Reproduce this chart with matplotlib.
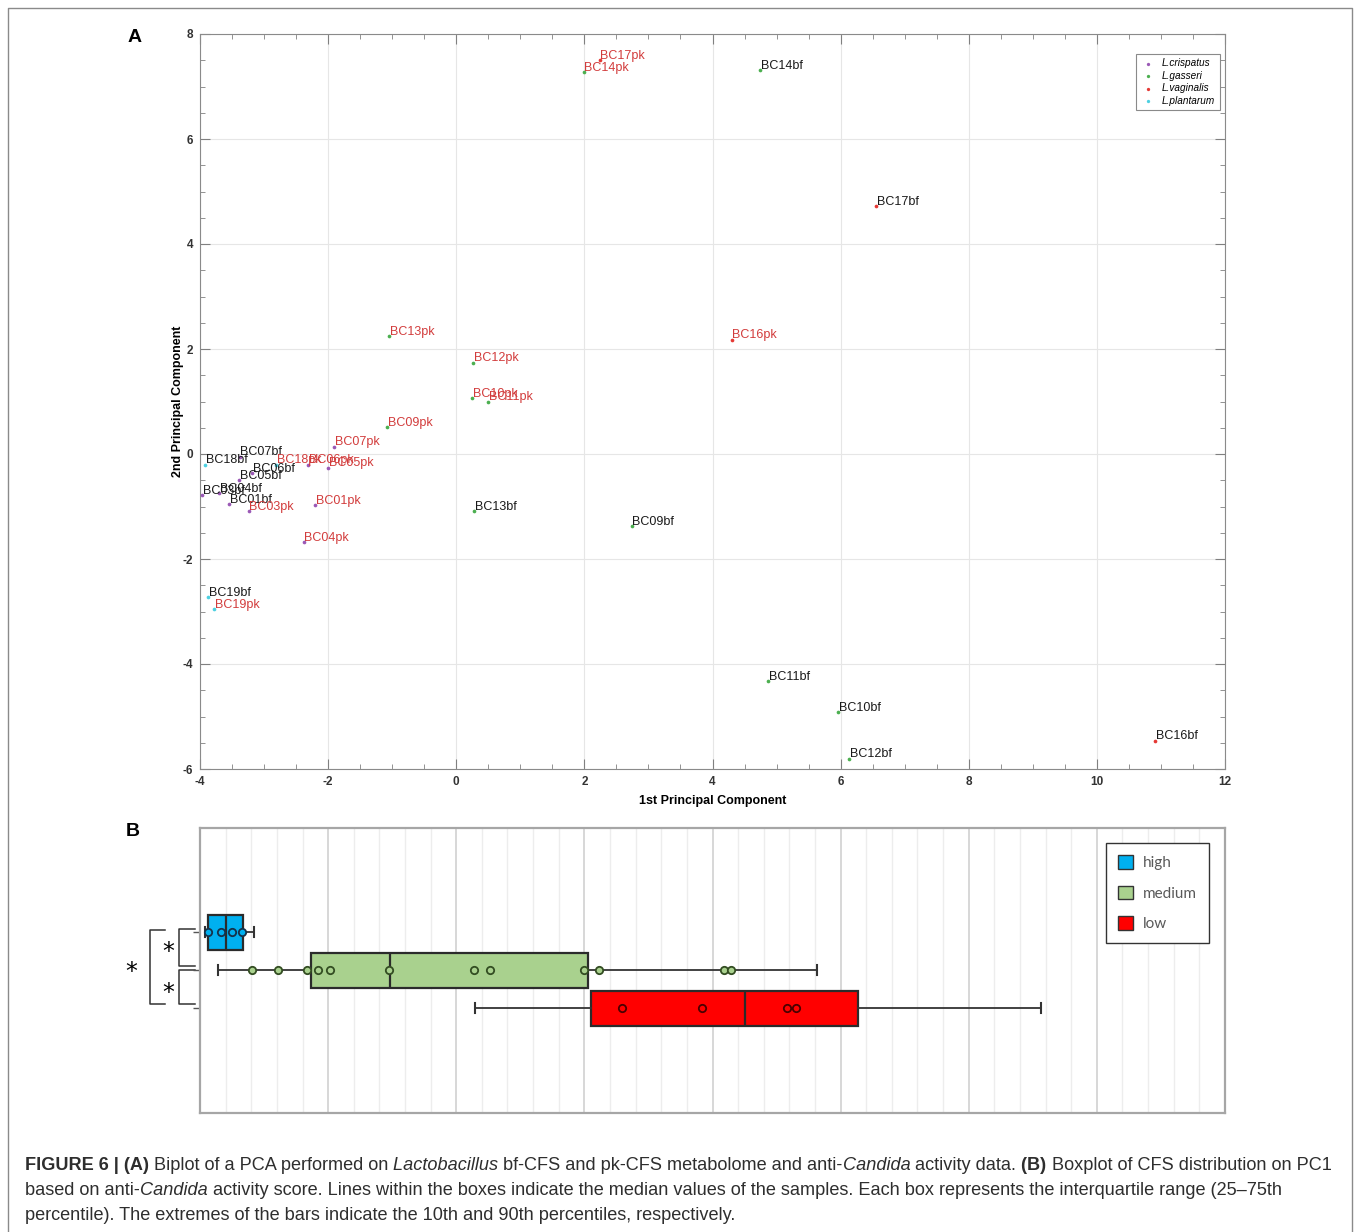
import numpy as np
import matplotlib
matplotlib.use('Agg')
import matplotlib.pyplot as plt
from matplotlib import font_manager
from matplotlib.patches import Patch

# ---- panel A: PCA scores ----
names = ['BC01bf', 'BC03bf', 'BC04bf', 'BC05bf', 'BC06bf', 'BC07bf', 'BC09bf', 'BC10bf',
         'BC11bf', 'BC12bf', 'BC13bf', 'BC14bf', 'BC16bf', 'BC17bf', 'BC18bf', 'BC19bf',
         'BC01pk', 'BC03pk', 'BC04pk', 'BC05pk', 'BC06pk', 'BC07pk', 'BC09pk', 'BC10pk',
         'BC11pk', 'BC12pk', 'BC13pk', 'BC14pk', 'BC16pk', 'BC17pk', 'BC18pk', 'BC19pk']
pc1 = [-3.55, -3.97, -3.70, -3.39, -3.19, -3.38, 2.74, 5.96,
       4.87, 6.13, 0.28, 4.74, 10.91, 6.55, -3.92, -3.87,
       -2.20, -3.24, -2.38, -2.00, -2.31, -1.91, -1.08, 0.25,
       0.50, 0.26, -1.05, 1.99, 4.30, 2.24, -2.81, -3.78]
pc2 = [-0.95, -0.78, -0.74, -0.49, -0.37, -0.05, -1.38, -4.91,
       -4.33, -5.80, -1.08, 7.31, -5.46, 4.73, -0.20, -2.73,
       -0.98, -1.08, -1.67, -0.26, -0.20, 0.14, 0.52, 1.06,
       1.00, 1.74, 2.24, 7.28, 2.18, 7.50, -0.20, -2.96]
species = ['L.crispatus', 'L.crispatus', 'L.crispatus', 'L.crispatus', 'L.crispatus', 'L.crispatus',
           'L.gasseri', 'L.gasseri', 'L.gasseri', 'L.gasseri', 'L.gasseri', 'L.gasseri',
           'L.vaginalis', 'L.vaginalis', 'L.plantarum', 'L.plantarum',
           'L.crispatus', 'L.crispatus', 'L.crispatus', 'L.crispatus', 'L.crispatus', 'L.crispatus',
           'L.gasseri', 'L.gasseri', 'L.gasseri', 'L.gasseri', 'L.gasseri', 'L.gasseri',
           'L.vaginalis', 'L.vaginalis', 'L.plantarum', 'L.plantarum']
sp_names = ['L.crispatus', 'L.gasseri', 'L.vaginalis', 'L.plantarum']
sp_colors = ['#9b59b6', '#4caf50', '#e53935', '#4dd0e1']

# ---- panel B: boxplot on PC1 ----
groups = ['high', 'medium', 'low']
group_colors = ['#00b0f0', '#a9d18e', '#ff0000']
point_edges = ['#15324a', '#334d22', '#4a0000']
whislo = [-3.92, -3.72, 0.29]
q1 = [-3.875, -2.27, 2.10]
med = [-3.59, -1.03, 4.51]
q3 = [-3.33, 2.06, 6.27]
whishi = [-3.16, 5.63, 9.13]
pts_high = [-3.875, -3.67, -3.50, -3.34]
pts_medium = [-3.19, -2.79, -2.33, -2.16, -1.97, -1.05, 0.27, 0.52, 2.00, 2.23, 4.18, 4.29]
pts_low = [2.59, 3.84, 5.17, 5.30]

W, H = 1360, 1232
plt.rcParams['font.family'] = ['Liberation Sans', 'DejaVu Sans']
plt.rcParams['axes.unicode_minus'] = False
fig = plt.figure(figsize=(W / 100, H / 100), dpi=100)

def fx(px):
    return px / W

def fy(py):
    return 1 - py / H

# overlay axes in pixel coords for frame, letters, brackets, caption
ov = fig.add_axes([0, 0, 1, 1])
ov.set_xlim(0, W)
ov.set_ylim(H, 0)
ov.axis('off')
ov.plot([8, 8, 1352, 1352], [1260, 8, 8, 1260], color='#8a8a8a', lw=1)
ov.text(135, 37, 'A', fontsize=14, fontweight='bold', ha='center', va='center')
ov.text(133, 831, 'B', fontsize=14, fontweight='bold', ha='center', va='center')

# ---------------- panel A ----------------
axA = fig.add_axes([fx(200), fy(769), (1225 - 200) / W, (769 - 34) / H])
for s, c in zip(sp_names, sp_colors):
    idx = [i for i in range(len(names)) if species[i] == s]
    axA.scatter([pc1[i] for i in idx], [pc2[i] for i in idx], s=7, color=c,
                label=s, zorder=3, linewidths=0)
for n, x, y in zip(names, pc1, pc2):
    col = '#d23c3c' if n.endswith('pk') else '#1a1a1a'
    axA.annotate(n, (x, y), xytext=(0.5, 3), textcoords='offset points',
                 fontsize=9, color=col, va='center', ha='left', zorder=4)
axA.set_xlim(-4, 12)
axA.set_ylim(-6, 8)
axA.set_xticks(np.arange(-4, 13, 2))
axA.set_yticks(np.arange(-6, 9, 2))
axA.set_xticks(np.arange(-4, 12.01, 0.5), minor=True)
axA.set_yticks(np.arange(-6, 8.01, 0.5), minor=True)
axA.tick_params(which='both', direction='in', top=True, right=True, color='#808080')
axA.tick_params(which='major', length=7, labelsize=8.5, labelcolor='#333333', pad=5)
axA.tick_params(which='minor', length=3.5)
for lab in axA.get_xticklabels() + axA.get_yticklabels():
    lab.set_fontweight('bold')
axA.grid(True, which='major', color='#e6e6e6', lw=0.8)
axA.set_axisbelow(True)
for sp in axA.spines.values():
    sp.set_color('#8a8a8a')
axA.set_xlabel('1st Principal Component', fontsize=9, fontweight='bold', labelpad=5)
axA.set_ylabel('2nd Principal Component', fontsize=9, fontweight='bold', labelpad=-1)
legA = axA.legend(loc='upper right', bbox_to_anchor=(0.995, 0.973), borderaxespad=0,
                  prop={'style': 'italic', 'size': 7.2}, fancybox=False, framealpha=1,
                  edgecolor='#8a8a8a', handletextpad=0.6, borderpad=0.45,
                  labelspacing=0.25, markerscale=0.9, handlelength=1.6)
legA.get_frame().set_linewidth(0.8)

# ---------------- panel B ----------------
axB = fig.add_axes([fx(200), fy(1113), (1225 - 200) / W, (1113 - 828) / H])
stats = []
for i, g in enumerate(groups):
    stats.append(dict(label=g, whislo=whislo[i], q1=q1[i], med=med[i], q3=q3[i],
                      whishi=whishi[i], fliers=[]))
bp = axB.bxp(stats, positions=[1, 2, 3], widths=0.92, orientation='horizontal',
             patch_artist=True, showfliers=False, capwidths=0.28,
             boxprops=dict(edgecolor='#2b2b2b', lw=1.6),
             medianprops=dict(color='#2b2b2b', lw=1.6),
             whiskerprops=dict(color='#333333', lw=1.3),
             capprops=dict(color='#333333', lw=1.5))
for patch, c in zip(bp['boxes'], group_colors):
    patch.set_facecolor(c)
for pos, pts, c, ec in zip([1, 2, 3], [pts_high, pts_medium, pts_low], group_colors, point_edges):
    axB.scatter(pts, [pos] * len(pts), s=28, facecolor=c, edgecolor=ec, lw=1.3, zorder=5)
axB.set_xlim(-4, 12)
axB.set_ylim(5.76, -1.74)
axB.set_xticks(np.arange(-4, 12.01, 2))
axB.set_xticks(np.arange(-4, 12.01, 0.4), minor=True)
axB.grid(True, axis='x', which='minor', color='#ededed', lw=1.0)
axB.grid(True, axis='x', which='major', color='#d4d4d4', lw=1.3)
axB.set_axisbelow(True)
axB.tick_params(axis='x', which='both', length=0, labelbottom=False)
axB.set_yticks([1, 2, 3])
axB.set_yticklabels(['', '', ''])
axB.tick_params(axis='y', length=5, color='#555555', width=1)
for sp in axB.spines.values():
    sp.set_color('#a6a6a6')
    sp.set_linewidth(1.6)
handles = [Patch(facecolor=c, edgecolor='#333333', lw=1) for c in group_colors]
legB = axB.legend(handles, groups, loc='upper right', bbox_to_anchor=(0.984, 0.947),
                  borderaxespad=0,
                  prop={'family': 'Lato', 'size': 11}, labelcolor='#595959',
                  fancybox=False, framealpha=1, edgecolor='#333333',
                  handlelength=1.0, handleheight=1.0, labelspacing=1.0,
                  borderpad=0.8, handletextpad=0.6)
legB.get_frame().set_linewidth(1.0)

# significance brackets
br_col = '#333333'
ov.plot([165, 150, 150, 165], [930, 930, 1004, 1004], color=br_col, lw=1.1)
ov.plot([195, 179, 179, 195], [929, 929, 966, 966], color=br_col, lw=1.1)
ov.plot([195, 179, 179, 195], [970, 970, 1004, 1004], color=br_col, lw=1.1)
ov.text(131, 972, '*', fontsize=17, ha='center', va='center', family='DejaVu Sans')
ov.text(168, 952, '*', fontsize=17, ha='center', va='center', family='DejaVu Sans')
ov.text(168, 993, '*', fontsize=17, ha='center', va='center', family='DejaVu Sans')

# ---------------- caption ----------------
avail = {f.name for f in font_manager.fontManager.ttflist}
cap_fam = 'Liberation Sans Narrow' if 'Liberation Sans Narrow' in avail else 'Liberation Sans'

line1 = [('FIGURE 6 | (A)', 'b'), (' Biplot of a PCA performed on', 'n'), (' Lactobacillus', 'i'),
         (' bf-CFS and pk-CFS metabolome and anti-', 'n'), ('Candida', 'i'),
         (' activity data.', 'n'), (' (B)', 'b'), (' Boxplot of CFS distribution on PC1', 'n')]
line2 = [('based on anti-', 'n'), ('Candida', 'i'),
         (' activity score. Lines within the boxes indicate the median values of the samples. '
          'Each box represents the interquartile range (25\u201375th', 'n')]
line3 = [('percentile). The extremes of the bars indicate the 10th and 90th percentiles, respectively.', 'n')]

renderer = fig.canvas.get_renderer()

def rich_line(x, y, segs, size):
    arts = []
    for s, st in segs:
        t = ov.text(x, y, s, fontsize=size, family=cap_fam,
                    fontweight='bold' if st == 'b' else 'normal',
                    fontstyle='italic' if st == 'i' else 'normal',
                    color='#2e2e2e', va='baseline', ha='left')
        bb = t.get_window_extent(renderer=renderer)
        x += bb.width
        arts.append(t)
    return arts, x

arts, xend = rich_line(25, 1170, line1, 12)
size = 12 * (1337 - 25) / (xend - 25)
for a in arts:
    a.remove()
rich_line(25, 1170, line1, size)
rich_line(25, 1195, line2, size)
rich_line(25, 1220, line3, size)

fig.savefig('out.png', dpi=100)
